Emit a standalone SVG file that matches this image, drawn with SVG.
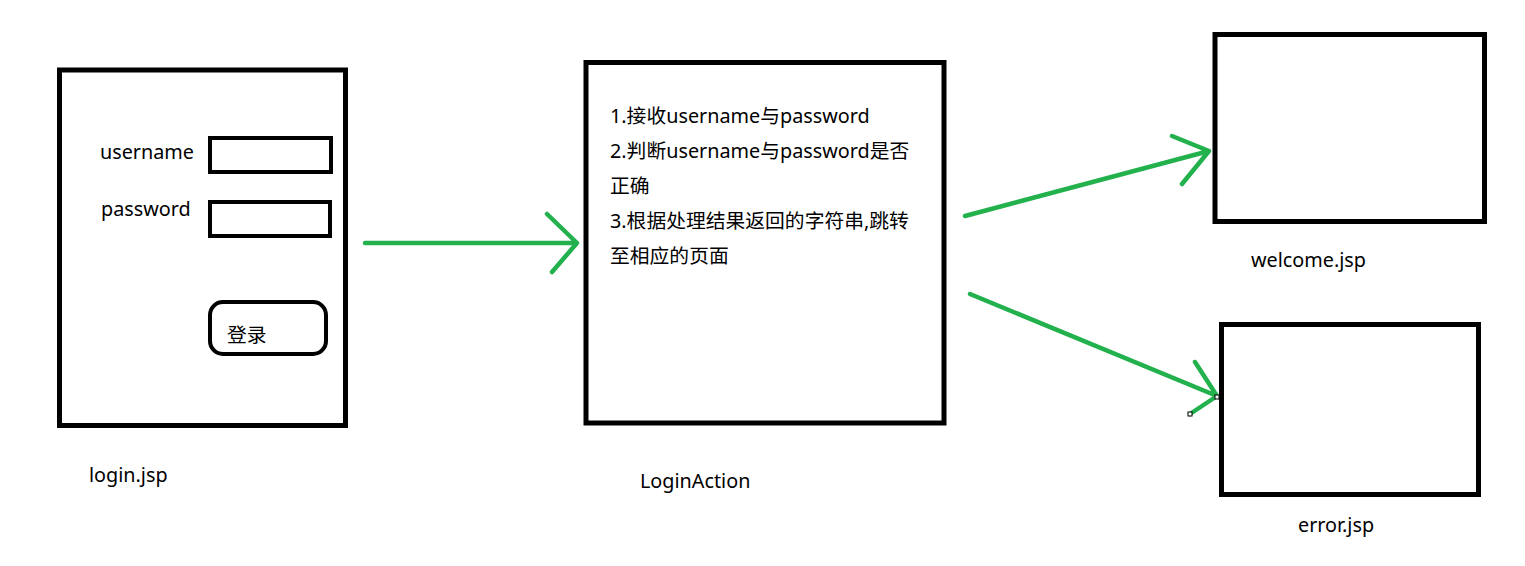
<svg xmlns="http://www.w3.org/2000/svg" width="1525" height="566" viewBox="0 0 1525 566">
<style>
.box{fill:#fff;stroke:#000;stroke-width:5}
.fld{fill:#fff;stroke:#000;stroke-width:4}
.t{font-family:"Noto Sans","Noto Sans CJK SC",sans-serif;font-size:19.8px;fill:#000}
.c{fill:none;stroke:#22b14c;stroke-width:4.5;stroke-linecap:round;stroke-linejoin:round}
.h{fill:#fff;stroke:#000;stroke-width:1}
</style>
<rect width="1525" height="566" fill="#fff"/>
<g id="login">
<rect class="box" x="59.5" y="70" width="286" height="355.5"/>
<text class="t" x="100" y="159">username</text>
<rect class="fld" x="210" y="138" width="121" height="34"/>
<text class="t" x="101" y="216">password</text>
<rect class="fld" x="210" y="202" width="120" height="34"/>
<rect class="fld" x="210" y="302" width="116" height="52" rx="13"/>
<text class="t" x="227" y="342">登录</text>
<text class="t" x="89" y="482">login.jsp</text>
</g>
<g id="loginaction">
<rect class="box" x="586" y="62.5" width="358" height="360.5"/>
<text class="t" x="610" y="123">1.接收username与password</text>
<text class="t" x="610" y="158">2.判断username与password是否</text>
<text class="t" x="610" y="193">正确</text>
<text class="t" x="610" y="228">3.根据处理结果返回的字符串,跳转</text>
<text class="t" x="610" y="263">至相应的页面</text>
<text class="t" x="640" y="488">LoginAction</text>
</g>
<g id="welcome">
<rect class="box" x="1215" y="34.5" width="269.5" height="187"/>
<text class="t" x="1251" y="267">welcome.jsp</text>
</g>
<g id="error">
<rect class="box" x="1221.5" y="324.5" width="257" height="170"/>
<text class="t" x="1298" y="532">error.jsp</text>
</g>
<g id="connectors">
<path class="c" d="M365,243 L577,243 M547,214 L577,243 L552,272"/>
<path class="c" d="M965,216 L1209,151 M1172,136 L1209,151 L1182,184"/>
<path class="c" d="M970,294 L1217,396 M1195,362 L1217,396 L1190,414"/>
<rect class="h" x="1188" y="412" width="4" height="4"/>
<rect class="h" x="1215" y="395" width="4" height="4"/>
</g>
</svg>
